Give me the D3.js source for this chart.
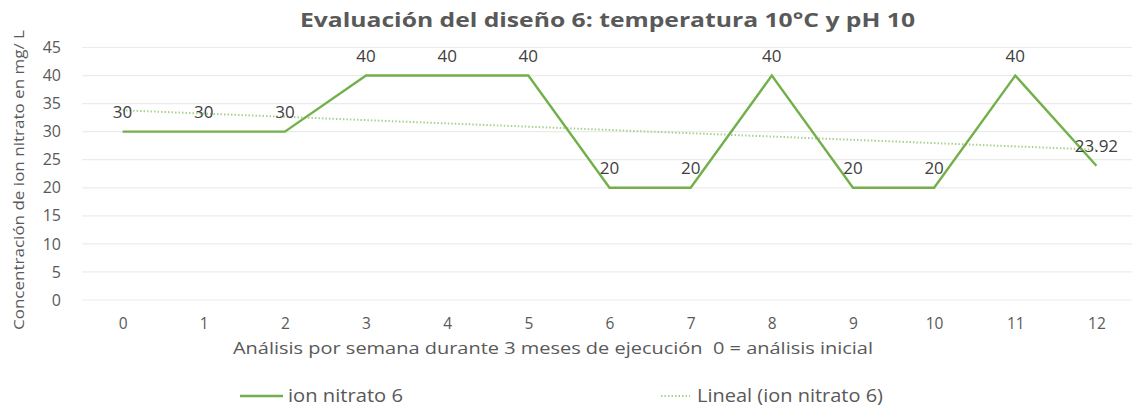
<!DOCTYPE html>
<html>
<head>
<meta charset="utf-8">
<script src="https://cdn.jsdelivr.net/npm/d3@7"></script>
<style>
  html, body { margin: 0; padding: 0; background: #fff; }
  svg { display: block; font-family: "Open Sans", "Noto Sans", sans-serif; }
</style>
</head>
<body>
<svg id="chart" width="1132" height="408"></svg>
<script>
// Weekly nitrate measurements, design 6 (10 °C, pH 10)
const weeks = ["0", "1", "2", "3", "4", "5", "6", "7", "8", "9", "10", "11", "12"];
const nitrate = [30, 30, 30, 40, 40, 40, 20, 20, 40, 20, 20, 40, 23.92];
const yTicks = [0, 5, 10, 15, 20, 25, 30, 35, 40, 45];

const W = 1132, H = 408;
const margin = { left: 82, right: -5, top: 47.5, bottom: 108 };
const svg = d3.select("#chart");
const textColor = "#595959";
const lineColor = "#72b04a";
const trendColor = "#a9d18e";

const x = d3.scalePoint()
  .domain(weeks)
  .range([margin.left, W - margin.right])
  .padding(0.5);

const y = d3.scaleLinear()
  .domain([0, 45])
  .range([H - margin.bottom, margin.top]);

// Horizontal gridlines
svg.append("g")
  .selectAll("line")
  .data(yTicks)
  .join("line")
  .attr("x1", margin.left)
  .attr("x2", W)
  .attr("y1", d => y(d))
  .attr("y2", d => y(d))
  .attr("stroke", "#ebebeb")
  .attr("stroke-width", 1.2);

// Y axis labels
const yAxis = d3.axisLeft(y).tickValues(yTicks).tickSize(0).tickPadding(0);
svg.append("g")
  .attr("transform", `translate(${margin.left - 21},0)`)
  .call(yAxis)
  .call(g => g.select(".domain").remove())
  .call(g => g.selectAll("text")
    .attr("fill", textColor)
    .style("font-size", "16px")
    .style("font-family", "'Open Sans', sans-serif"));

// X axis labels
const xAxis = d3.axisBottom(x).tickSize(0).tickPadding(0);
svg.append("g")
  .attr("transform", `translate(0,${y(0) + 18})`)
  .call(xAxis)
  .call(g => g.select(".domain").remove())
  .call(g => g.selectAll("text")
    .attr("fill", textColor)
    .style("font-size", "15.5px")
    .style("font-family", "'Open Sans', sans-serif"));

// Linear trend (least squares over the weekly index)
const xs = nitrate.map((_, i) => i);
const mx = d3.mean(xs), my = d3.mean(nitrate);
const slope = d3.sum(xs, (xi, i) => (xi - mx) * (nitrate[i] - my)) / d3.sum(xs, xi => (xi - mx) ** 2);
const intercept = my - slope * mx;
const trend = xs.map(i => intercept + slope * i);

const line = d3.line()
  .x((d, i) => x(weeks[i]))
  .y(d => y(d));

svg.append("path")
  .datum(trend)
  .attr("d", line)
  .attr("fill", "none")
  .attr("stroke", trendColor)
  .attr("stroke-width", 2)
  .attr("stroke-dasharray", "1.5 2");

svg.append("path")
  .datum(nitrate)
  .attr("d", line)
  .attr("fill", "none")
  .attr("stroke", lineColor)
  .attr("stroke-width", 2.4)
  .attr("stroke-linejoin", "miter");

// Value labels above each point
svg.append("g")
  .selectAll("text")
  .data(nitrate)
  .join("text")
  .attr("x", (d, i) => x(weeks[i]))
  .attr("y", d => y(d) - 14)
  .attr("text-anchor", "middle")
  .attr("fill", "#404040")
  .style("font-size", "17px")
  .text(d => d);

// Title
svg.append("text")
  .attr("x", 607.5)
  .attr("y", 27)
  .attr("text-anchor", "middle")
  .attr("fill", textColor)
  .attr("textLength", 615)
  .attr("lengthAdjust", "spacingAndGlyphs")
  .style("font-size", "20px")
  .style("font-weight", "bold")
  .text("Evaluación del diseño 6: temperatura 10°C y pH 10");

// Axis titles
svg.append("text")
  .attr("transform", `translate(24,${180}) rotate(-90)`)
  .attr("text-anchor", "middle")
  .attr("fill", textColor)
  .attr("textLength", 300)
  .attr("lengthAdjust", "spacingAndGlyphs")
  .style("font-size", "15px")
  .text("Concentración de ion nitrato en mg/ L");

svg.append("text")
  .attr("x", 553)
  .attr("y", 354)
  .attr("text-anchor", "middle")
  .attr("fill", textColor)
  .attr("textLength", 640)
  .attr("lengthAdjust", "spacingAndGlyphs")
  .style("font-size", "16.5px")
  .style("white-space", "pre")
  .text("Análisis por semana durante 3 meses de ejecución  0 = análisis inicial");

// Legend
const legend = svg.append("g");
legend.append("line")
  .attr("x1", 240).attr("x2", 283)
  .attr("y1", 396).attr("y2", 396)
  .attr("stroke", lineColor).attr("stroke-width", 2.4);
legend.append("text")
  .attr("x", 288).attr("y", 402)
  .attr("fill", textColor)
  .attr("textLength", 115)
  .attr("lengthAdjust", "spacingAndGlyphs")
  .style("font-size", "18px")
  .text("ion nitrato 6");
legend.append("line")
  .attr("x1", 661).attr("x2", 690)
  .attr("y1", 396).attr("y2", 396)
  .attr("stroke", trendColor).attr("stroke-width", 2)
  .attr("stroke-dasharray", "1.5 2");
legend.append("text")
  .attr("x", 697).attr("y", 402)
  .attr("fill", textColor)
  .attr("textLength", 186)
  .attr("lengthAdjust", "spacingAndGlyphs")
  .style("font-size", "18px")
  .text("Lineal (ion nitrato 6)");
</script>
</body>
</html>
